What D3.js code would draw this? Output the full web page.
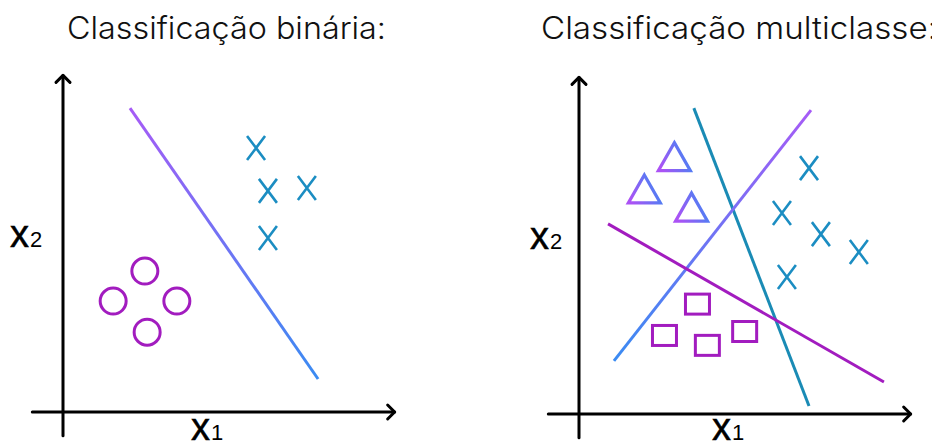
<!DOCTYPE html>
<html lang="pt">
<head>
<meta charset="utf-8">
<title>Classificação</title>
<style>
  body { margin: 0; background: #fff; }
  .title { font-family: Inter, "Open Sans", sans-serif; font-weight: 300; font-size: 31px; fill: #111; }
  .axis-label { font-family: "Liberation Sans", Arial, sans-serif; font-size: 38px; fill: #000; stroke: #000; stroke-width: 0.5px; }
  .axis-label .sub { stroke: none; }
  .axis-line { stroke: #000; stroke-width: 3; fill: none; stroke-linecap: round; stroke-linejoin: round; }
</style>
</head>
<body>
<script src="https://d3js.org/d3.v7.min.js"></script>
<script>
// data in abstract units (0..10 on each axis)
var binaryCross = [[5.85, 8.0], [6.21, 6.7], [7.39, 6.79], [6.21, 5.27]];
var binaryCircle = [[2.48, 4.27], [1.52, 3.36], [3.45, 3.36], [2.55, 2.42]];
var binaryLine = [[2.03, 9.21], [7.73, 1.0]];

var multiCross = [[6.97, 7.45], [6.15, 6.09], [7.33, 5.45], [8.48, 4.91], [6.30, 4.15]];
var multiTriangle = [[2.89, 7.8], [1.98, 6.82], [3.41, 6.27]];
var multiSquare = [[3.59, 3.33], [2.59, 2.38], [3.89, 2.08], [5.02, 2.5]];
var multiLines = [
  {id: 'teal', pts: [[3.48, 9.27], [6.97, 0.24]]},
  {id: 'grad', pts: [[7.03, 9.21], [1.06, 1.61]]},
  {id: 'purple', pts: [[0.88, 5.76], [9.24, 0.97]]}
];

var titles = ['Classificação binária:', 'Classificação multiclasse:'];
var xAxisExtent = [-0.93, 10.05];
var yAxisExtent = [-0.72, 10.2];

var W = 932, H = 447;
var purple = '#a21cbf', blue = '#1b8dc2', teal = '#1a8bb5';

var svg = d3.select('body').append('svg')
    .attr('width', W)
    .attr('height', H);

var defs = svg.append('defs');
var lg = defs.append('linearGradient').attr('id', 'lineGrad')
    .attr('x1', 0).attr('y1', 0).attr('x2', 0).attr('y2', 1);
lg.append('stop').attr('offset', '0%').attr('stop-color', '#a65bf6');
lg.append('stop').attr('offset', '100%').attr('stop-color', '#3a8bf2');

var tg = defs.append('linearGradient').attr('id', 'triGrad')
    .attr('x1', 0).attr('y1', 0.7).attr('x2', 1).attr('y2', 0.3);
tg.append('stop').attr('offset', '0%').attr('stop-color', '#ab52f5');
tg.append('stop').attr('offset', '100%').attr('stop-color', '#3f86f3');

function panel(x0, y0) {
  var x = d3.scaleLinear().domain([0, 10]).range([x0, x0 + 330]);
  var y = d3.scaleLinear().domain([0, 10]).range([y0, y0 - 330]);
  var g = svg.append('g');

  // axes with arrow heads
  g.append('line').attr('class', 'axis-line')
      .attr('x1', x(xAxisExtent[0])).attr('x2', x(xAxisExtent[1]))
      .attr('y1', y(0)).attr('y2', y(0));
  g.append('line').attr('class', 'axis-line')
      .attr('x1', x(0)).attr('x2', x(0))
      .attr('y1', y(yAxisExtent[0])).attr('y2', y(yAxisExtent[1]));
  var ax = x(xAxisExtent[1]), ay = y(yAxisExtent[1]);
  g.append('path').attr('class', 'axis-line')
      .attr('d', 'M' + (ax - 7) + ',' + (y(0) - 7) + 'L' + ax + ',' + y(0) + 'L' + (ax - 7) + ',' + (y(0) + 7));
  g.append('path').attr('class', 'axis-line')
      .attr('d', 'M' + (x(0) - 7) + ',' + (ay + 7) + 'L' + x(0) + ',' + ay + 'L' + (x(0) + 7) + ',' + (ay + 7));

  return {x: x, y: y, g: g};
}

function drawCross(p, data) {
  p.g.selectAll(null).data(data).enter().append('path')
      .attr('d', function(d) {
        var cx = p.x(d[0]), cy = p.y(d[1]), w = 9, h = 12;
        return 'M' + (cx - w) + ',' + (cy - h) + 'L' + (cx + w) + ',' + (cy + h) +
               'M' + (cx + w) + ',' + (cy - h) + 'L' + (cx - w) + ',' + (cy + h);
      })
      .attr('stroke', blue).attr('stroke-width', 2.6).attr('fill', 'none');
}

function xLabel(g, px, py, sub) {
  var t = g.append('text').attr('class', 'axis-label').attr('x', px).attr('y', py);
  t.append('tspan').text('x');
  t.append('tspan').attr('class', 'sub').attr('font-size', '22px').attr('dx', 1).text(sub);
}

// ---- binary panel
var p1 = panel(63, 412);
svg.append('text').attr('class', 'title').attr('x', 67).attr('y', 39)
    .attr('textLength', 319).attr('lengthAdjust', 'spacingAndGlyphs').text(titles[0]);
xLabel(p1.g, 10, 247, '2');
xLabel(p1.g, 191, 440, '1');

p1.g.append('path')
    .attr('d', d3.line().x(function(d) { return p1.x(d[0]); }).y(function(d) { return p1.y(d[1]); })(binaryLine))
    .attr('stroke', 'url(#lineGrad)').attr('stroke-width', 3).attr('fill', 'none');

p1.g.selectAll(null).data(binaryCircle).enter().append('circle')
    .attr('cx', function(d) { return p1.x(d[0]); })
    .attr('cy', function(d) { return p1.y(d[1]); })
    .attr('r', 13)
    .attr('fill', 'none').attr('stroke', purple).attr('stroke-width', 3);
drawCross(p1, binaryCross);

// ---- multiclass panel
var p2 = panel(579, 414);
svg.append('text').attr('class', 'title').attr('x', 541).attr('y', 39)
    .attr('textLength', 396).attr('lengthAdjust', 'spacingAndGlyphs').text(titles[1]);
xLabel(p2.g, 530, 249, '2');
xLabel(p2.g, 712, 440, '1');

var lineColor = {teal: teal, grad: 'url(#lineGrad)', purple: purple};
p2.g.selectAll(null).data(multiLines).enter().append('path')
    .attr('d', function(d) {
      return d3.line().x(function(v) { return p2.x(v[0]); }).y(function(v) { return p2.y(v[1]); })(d.pts);
    })
    .attr('stroke', function(d) { return lineColor[d.id]; })
    .attr('stroke-width', 3).attr('fill', 'none');

p2.g.selectAll(null).data(multiTriangle).enter().append('path')
    .attr('d', function(d) {
      var cx = p2.x(d[0]), cy = p2.y(d[1]), w = 16, h = 14;
      return 'M' + cx + ',' + (cy - h) + 'L' + (cx + w) + ',' + (cy + h) + 'L' + (cx - w) + ',' + (cy + h) + 'Z';
    })
    .attr('fill', 'none').attr('stroke', 'url(#triGrad)').attr('stroke-width', 3.2);

p2.g.selectAll(null).data(multiSquare).enter().append('rect')
    .attr('x', function(d) { return p2.x(d[0]) - 12; })
    .attr('y', function(d) { return p2.y(d[1]) - 10; })
    .attr('width', 24).attr('height', 20)
    .attr('fill', 'none').attr('stroke', purple).attr('stroke-width', 3);
drawCross(p2, multiCross);
</script>
</body>
</html>
